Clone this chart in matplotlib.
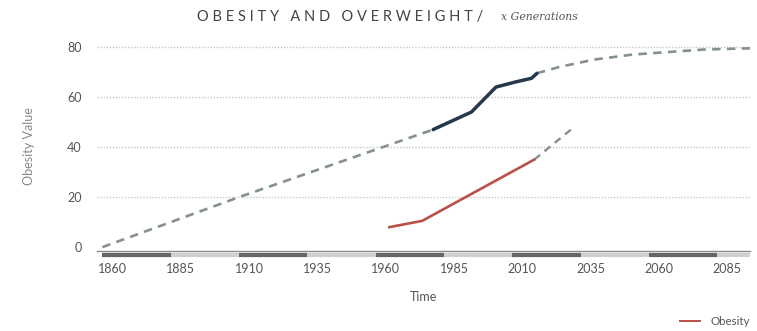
import matplotlib
matplotlib.use("Agg")
import matplotlib.pyplot as plt
from matplotlib.lines import Line2D
import matplotlib.transforms as mtransforms

# Overweight: historical trend, observed, and projected
overweight_trend_years = [1860, 1910, 1960, 1981]
overweight_trend_values = [0, 20, 39, 47]
overweight_obs_years = [1981, 1995, 2004, 2011, 2017, 2019]
overweight_obs_values = [47, 54, 64, 66, 67.5, 69.5]
overweight_proj_years = [2019, 2027, 2040, 2054, 2067, 2080, 2097]
overweight_proj_values = [69.5, 72, 75, 77, 78, 79, 79.5]

# Obesity: observed and projected
obesity_obs_years = [1965, 1977, 2018]
obesity_obs_values = [8, 10.5, 35]
obesity_proj_years = [2018, 2032]
obesity_proj_values = [35, 47.5]

x_ticks = [1860, 1885, 1910, 1935, 1960, 1985, 2010, 2035, 2060, 2085]
y_ticks = [0, 20, 40, 60, 80]

plt.rcParams['font.family'] = ['Lato', 'DejaVu Sans']

fig = plt.figure(figsize=(7.57, 3.31), dpi=100)
ax = fig.add_axes([0.128, 0.242, 0.863, 0.631])

dash_gray = "#859090"
navy = "#26384a"
red = "#bb5048"

ax.plot(overweight_trend_years, overweight_trend_values, color=dash_gray,
        lw=1.9, ls=(0, (3.2, 2.4)), zorder=3)
ax.plot(overweight_proj_years, overweight_proj_values, color=dash_gray,
        lw=1.9, ls=(0, (3.2, 2.4)), zorder=3)
ax.plot(obesity_proj_years, obesity_proj_values, color=dash_gray,
        lw=1.7, ls=(0, (3.2, 2.4)), zorder=3)
ax.plot(overweight_obs_years, overweight_obs_values, color=navy, lw=2.5,
        solid_capstyle='round', solid_joinstyle='round', zorder=4)
ax.plot(obesity_obs_years, obesity_obs_values, color=red, lw=1.9,
        solid_joinstyle='round', zorder=4)

ax.set_xlim(1858, 2097)
ax.set_ylim(-1.5, 82)

# dotted horizontal gridlines
for y in y_ticks[1:]:
    ax.axhline(y, color="#c8c8c8", lw=1.0, ls=(0, (1, 1.2)), zorder=1)

for s in ['top', 'right', 'left']:
    ax.spines[s].set_visible(False)
ax.spines['bottom'].set_color("#8a8a8a")
ax.spines['bottom'].set_linewidth(1.0)

ax.set_yticks(y_ticks)
ax.set_yticklabels([str(v) for v in y_ticks])
ax.tick_params(axis='y', length=0, pad=11, labelsize=9, labelcolor="#555555")

ax.set_xticks(x_ticks)
ax.set_xticklabels([str(v) for v in x_ticks])
ax.tick_params(axis='x', length=0, pad=9, labelsize=9, labelcolor="#555555")
offset = mtransforms.ScaledTranslation(10 / 100, 0, fig.dpi_scale_trans)
for lab in ax.get_xticklabels():
    lab.set_transform(lab.get_transform() + offset)

# alternating band segments under the axis
band_tr = mtransforms.blended_transform_factory(ax.transData, ax.transAxes)
ax.plot([1860, 2097], [-0.02, -0.02], transform=band_tr, color="#d0d0d0",
        lw=3.0, solid_capstyle='butt', clip_on=False, zorder=2)
for start in x_ticks[::2]:
    ax.plot([start, start + 25], [-0.02, -0.02], transform=band_tr,
            color="#666666", lw=3.0, solid_capstyle='butt', clip_on=False, zorder=3)

ax.set_ylabel("Obesity Value", color="#888888", fontsize=9)
ax.yaxis.set_label_coords(-0.095, 0.5)
ax.set_xlabel("Time", color="#555555", fontsize=9)
ax.xaxis.set_label_coords(0.5, -0.19)

# title with letter spacing and serif subtitle
fig.text(0.26, 0.95, "O B E S I T Y   A N D   O V E R W E I G H T /",
         fontsize=10.5, color="#444444", ha='left', va='center')
fig.text(0.662, 0.95, "x Generations", family="DejaVu Serif", style='italic',
         fontsize=7.8, color="#555555", ha='left', va='center')

fig.legend(handles=[Line2D([], [], color=red, lw=1.4)], labels=["Obesity"],
           loc='lower right', bbox_to_anchor=(1.004, -0.02), frameon=False,
           fontsize=8.3, handlelength=1.7, handletextpad=0.9, labelcolor="#555555")

fig.savefig("out.png", dpi=100)
